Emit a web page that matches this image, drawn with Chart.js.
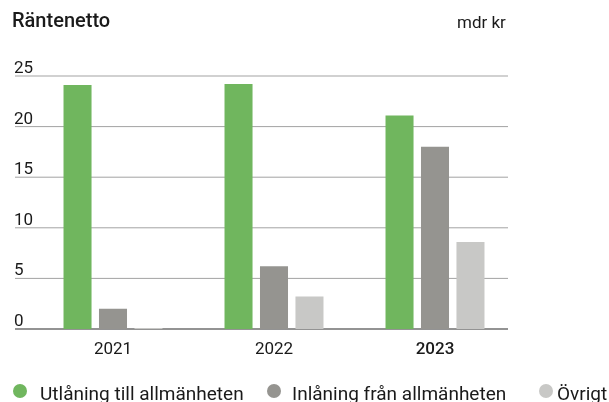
<!DOCTYPE html>
<html>
<head>
<meta charset="utf-8">
<script src="https://cdn.jsdelivr.net/npm/chart.js@4"></script>
<style>
  html, body { margin: 0; padding: 0; background: #fff; overflow: hidden; }
  #wrap { position: relative; width: 609px; height: 402px; font-family: Roboto, "Liberation Sans", sans-serif; color: #1a1a1a; }
  #myChart { position: absolute; left: 0; top: 0; }
  .txt { position: absolute; white-space: nowrap; }
  .title { left: 12px; top: 8px; font-size: 20px; font-weight: 500; }
  .unit { left: 457px; top: 12px; font-size: 17px; }
  .leg { top: 382px; font-size: 19px; }
  .dot { position: absolute; top: 384px; width: 14px; height: 14px; border-radius: 50%; }
</style>
</head>
<body>
<div id="wrap">
  <canvas id="myChart" width="609" height="402"></canvas>
  <div class="txt title">Räntenetto</div>
  <div class="txt unit">mdr kr</div>
  <div id="legend"></div>
</div>
<script>
const years = ['2021', '2022', '2023'];
const seriesNames = ['Utlåning till allmänheten', 'Inlåning från allmänheten', 'Övrigt'];
const lending = [24.1, 24.2, 21.1];
const deposits = [2.0, 6.2, 18.0];
const other = [0.1, 3.2, 8.6];
const yTicks = [0, 5, 10, 15, 20, 25];
const colors = ['#70b65e', '#959490', '#c8c8c6'];

// legend in html, left aligned and running off the right edge like the original
const dotX = [13, 267, 539];
const textX = [40, 292, 557];
const legend = document.getElementById('legend');
seriesNames.forEach((name, i) => {
    const dot = document.createElement('div');
    dot.className = 'dot';
    dot.style.left = dotX[i] + 'px';
    dot.style.background = colors[i];
    legend.appendChild(dot);
    const t = document.createElement('div');
    t.className = 'txt leg';
    t.style.left = textX[i] + 'px';
    t.textContent = name;
    legend.appendChild(t);
});

// grid lines + y labels drawn wider than the bar area
const gridPlugin = {
    id: 'grid',
    beforeDatasetsDraw(chart) {
        const c = chart.ctx;
        const y = chart.scales.y;
        c.save();
        yTicks.forEach(v => {
            const py = y.getPixelForValue(v);
            c.beginPath();
            c.moveTo(15, py);
            c.lineTo(508, py);
            c.lineWidth = v === 0 ? 1.5 : 1;
            c.strokeStyle = v === 0 ? '#6f6f6f' : '#a3a3a3';
            c.stroke();
            c.fillStyle = '#1a1a1a';
            c.font = '17px Roboto, "Liberation Sans", sans-serif';
            c.textBaseline = 'alphabetic';
            c.fillText(String(v), 14, py - 3);
        });
        c.restore();
    }
};

const ctx = document.getElementById('myChart').getContext('2d');
const myChart = new Chart(ctx, {
    type: 'bar',
    data: {
        labels: years,
        datasets: [
            { label: seriesNames[0], data: lending, backgroundColor: colors[0] },
            { label: seriesNames[1], data: deposits, backgroundColor: colors[1] },
            { label: seriesNames[2], data: other, backgroundColor: colors[2] }
        ]
    },
    options: {
        responsive: false,
        animation: false,
        layout: { padding: { left: 32.5, right: 93.5, top: 76, bottom: 0 } },
        datasets: { bar: { barPercentage: 0.79, categoryPercentage: 0.661 } },
        plugins: { legend: { display: false }, tooltip: { enabled: false } },
        scales: {
            x: {
                grid: { display: false, drawTicks: false },
                border: { display: false },
                ticks: {
                    color: '#1a1a1a',
                    padding: 11,
                    font: ctx => ({ family: 'Roboto', size: 17, weight: ctx.index === 2 ? '500' : 'normal' })
                },
                afterFit: s => { s.height = 73; }
            },
            y: {
                display: false,
                min: 0,
                max: 25
            }
        }
    },
    plugins: [gridPlugin]
});
</script>
</body>
</html>
